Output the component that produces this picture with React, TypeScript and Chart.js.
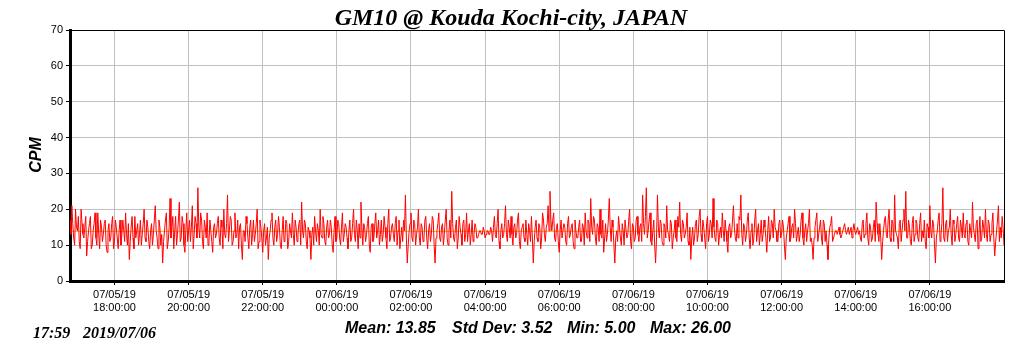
import { useEffect, useRef } from "react";
import { Chart, registerables } from "chart.js";

Chart.register(...registerables);

// Sampling schedule (minutes relative to 07/05/19 18:00:00)
const START_MINUTE = -72;
const STEP_MINUTES = 3;

// CPM readings, on the 3-minute marks
const CPM = [
  17, 21, 12, 20, 14, 11, 20, 13, 15, 7, 14, 18, 10, 16, 12, 19, 9, 15, 13, 17,
  8, 16, 12, 18, 11, 15, 9, 17, 13, 14, 19, 10, 6, 15, 12, 18, 14, 10, 17, 13,
  20, 11, 15, 9, 16, 13, 21, 12, 17, 10, 5, 14, 19, 11, 23, 15, 9, 18, 13, 22,
  12, 16, 8, 19, 14, 11, 21, 13, 16, 26, 12, 17, 9, 15, 19, 11, 14, 8, 16, 13,
  18, 10, 15, 20, 12, 24, 14, 17, 11, 19, 13, 9, 16, 6, 14, 18, 12, 15, 10, 17,
  13, 20, 11, 15, 8, 16, 12, 6, 14, 19, 10, 17, 13, 15, 9, 18, 12, 16, 11, 14,
  19, 10, 15, 13, 17, 22, 12, 16, 9, 14, 6, 15, 18, 11, 14, 20, 12, 16, 10, 17,
  13, 15, 8, 18, 12, 16, 10, 19, 13, 15, 9, 17, 12, 20, 11, 14, 16, 22, 10, 15,
  13, 18, 8, 16, 12, 19, 14, 10, 17, 13, 15, 9, 20, 12, 16, 11, 18, 14, 9, 15,
  17, 24, 5, 14, 19, 11, 16, 13, 20, 10, 15, 12, 18, 9, 16, 13, 17, 5, 14, 19,
  11, 16, 13, 20, 10, 17, 25, 12, 15, 9, 18, 13, 16, 11, 19, 14, 10, 17, 13, 15,
  12, 14, 13, 15, 12, 14, 13, 15, 11, 18, 12, 20, 9, 16, 13, 21, 11, 15, 18, 10,
  16, 13, 19, 9, 15, 12, 17, 10, 14, 18, 5, 15, 12, 16, 9, 19, 13, 15, 21, 25,
  14, 19, 11, 16, 8, 17, 12, 15, 10, 18, 13, 16, 9, 14, 12, 17, 11, 15, 19, 12,
  16, 23, 13, 17, 10, 15, 20, 12, 8, 16, 13, 23, 11, 15, 5, 14, 18, 12, 16, 10,
  17, 13, 20, 9, 15, 12, 18, 11, 16, 24, 13, 26, 14, 19, 10, 17, 5, 24, 12, 16,
  10, 15, 21, 13, 17, 9, 14, 12, 18, 22, 11, 16, 13, 19, 10, 6, 15, 12, 17, 13,
  20, 11, 15, 9, 18, 13, 16, 23, 12, 17, 10, 15, 19, 11, 14, 8, 16, 13, 21, 12,
  16, 18, 24, 10, 15, 13, 19, 9, 16, 12, 20, 14, 10, 17, 13, 15, 8, 18, 12, 16,
  20, 14, 11, 17, 13, 15, 6, 14, 18, 12, 16, 20, 11, 15, 13, 19, 10, 16, 14, 20,
  12, 6, 15, 19, 13, 17, 10, 16, 14, 6, 15, 18, 12, 14, 13, 15, 12, 14, 16, 13,
  15, 14, 12, 16, 13, 15, 14, 11, 17, 13, 19, 10, 15, 12, 17, 22, 13, 16, 6, 14,
  18, 12, 20, 11, 16, 24, 13, 9, 17, 14, 20, 25, 12, 15, 10, 18, 13, 16, 11, 19,
  14, 17, 9, 15, 21, 12, 16, 5, 14, 19, 13, 26, 11, 17, 14, 20, 10, 16, 13, 18,
  11, 15, 19, 12, 17, 10, 14, 22, 13, 16, 9, 18, 12, 15, 20, 11, 16, 13, 19, 7,
  14, 21, 15, 18, 10,
];

// CPM readings between the 3-minute marks (half-way samples)
const CPM_MID = [
  13, 16, 10, 15, 18, 9, 16, 12, 18, 11, 16, 9, 14, 19, 10, 13, 17, 11, 16, 10,
  14, 11, 16, 9, 17, 12, 14, 10, 17, 11, 13, 16, 11, 18, 9, 12, 16, 13, 10, 16,
  12, 17, 11, 14, 10, 17, 14, 9, 15, 13, 11, 17, 9, 15, 12, 18, 14, 10, 17, 11,
  18, 10, 14, 11, 17, 15, 9, 18, 12, 15, 19, 11, 17, 12, 10, 17, 11, 15, 12, 16,
  12, 17, 9, 13, 16, 11, 18, 10, 14, 12, 17, 15, 10, 14, 11, 16, 9, 17, 13, 11,
  16, 9, 17, 12, 14, 10, 15, 12, 17, 12, 15, 11, 18, 10, 14, 11, 17, 9, 16, 12,
  13, 17, 11, 16, 10, 14, 17, 11, 15, 12, 13, 10, 14, 16, 10, 13, 18, 11, 15, 12,
  17, 10, 14, 11, 17, 12, 15, 11, 16, 12, 14, 11, 16, 13, 17, 9, 12, 15, 16, 11,
  16, 10, 15, 11, 16, 12, 17, 13, 11, 18, 12, 16, 11, 15, 13, 16, 10, 17, 12, 11,
  14, 12, 10, 16, 12, 17, 10, 15, 12, 16, 11, 17, 12, 14, 11, 18, 10, 12, 16, 12,
  15, 10, 17, 12, 14, 12, 16, 11, 17, 12, 15, 10, 17, 13, 11, 16, 13, 11, 16, 12,
  13, 14, 13, 14, 13, 14, 13, 14, 15, 13, 16, 11, 14, 12, 16, 13, 17, 12, 13, 15,
  12, 17, 11, 14, 16, 11, 13, 16, 11, 12, 11, 17, 11, 15, 12, 17, 11, 16, 14, 17,
  17, 12, 15, 11, 14, 12, 16, 11, 16, 12, 15, 11, 17, 12, 15, 11, 16, 10, 14, 17,
  11, 15, 18, 12, 16, 11, 13, 17, 12, 11, 17, 15, 17, 10, 12, 11, 15, 10, 14, 17,
  12, 17, 11, 16, 11, 17, 13, 15, 11, 16, 18, 12, 17, 11, 14, 10, 12, 15, 17, 11,
  16, 12, 14, 11, 16, 12, 17, 11, 15, 13, 17, 12, 15, 11, 15, 12, 10, 16, 11, 18,
  13, 17, 12, 16, 11, 17, 12, 15, 11, 16, 13, 12, 14, 17, 11, 15, 12, 17, 15, 11,
  12, 17, 13, 16, 11, 17, 12, 14, 10, 17, 11, 16, 13, 11, 17, 12, 14, 11, 17, 12,
  15, 11, 16, 12, 17, 10, 12, 16, 11, 15, 12, 16, 13, 11, 17, 12, 14, 11, 16, 11,
  10, 12, 17, 11, 15, 12, 17, 11, 10, 12, 16, 11, 13, 14, 14, 13, 13, 15, 14, 14,
  13, 15, 14, 14, 14, 13, 12, 16, 12, 16, 12, 16, 11, 15, 11, 16, 11, 12, 11, 17,
  13, 17, 12, 17, 11, 14, 12, 16, 11, 17, 14, 12, 17, 11, 16, 11, 17, 12, 16, 11,
  12, 11, 16, 12, 14, 17, 10, 12, 17, 11, 16, 12, 16, 11, 15, 13, 17, 11, 16, 12,
  17, 12, 13, 16, 11, 16, 12, 15, 11, 17, 13, 11, 17, 12, 13, 17, 11, 16, 12, 11,
  17, 11, 12, 15,
];

const MEAN_CPM = 13.85;

const X_MIN = -72;
const X_MAX = 1440;
const X_TICK_VALUES = [0, 120, 240, 360, 480, 600, 720, 840, 960, 1080, 1200, 1320];
const X_TICK_DATES = [
  "07/05/19", "07/05/19", "07/05/19", "07/06/19", "07/06/19", "07/06/19",
  "07/06/19", "07/06/19", "07/06/19", "07/06/19", "07/06/19", "07/06/19",
];
const X_TICK_TIMES = [
  "18:00:00", "20:00:00", "22:00:00", "00:00:00", "02:00:00", "04:00:00",
  "06:00:00", "08:00:00", "10:00:00", "12:00:00", "14:00:00", "16:00:00",
];

const Y_MIN = 0;
const Y_MAX = 70;
const Y_STEP = 10;

const TITLE = "GM10 @ Kouda Kochi-city, JAPAN";
const Y_TITLE = "CPM";
const STAMP_TIME = "17:59";
const STAMP_DATE = "2019/07/06";
const STAT_TEXTS = ["Mean: 13.85", "Std Dev: 3.52", "Min: 5.00", "Max: 26.00"];

const SANS = '"Liberation Sans", Arial, sans-serif';
const SERIF = '"Liberation Serif", "Times New Roman", serif';

const overlayPlugin = {
  id: "overlay",
  afterDraw(chart: any) {
    const { ctx, chartArea } = chart;
    const { left, top, right, bottom } = chartArea;
    ctx.save();
    ctx.strokeStyle = "#000";
    ctx.lineWidth = 1;
    ctx.beginPath();
    ctx.moveTo(left, Math.round(top) + 0.5);
    ctx.lineTo(Math.round(right) + 0.5, Math.round(top) + 0.5);
    ctx.lineTo(Math.round(right) + 0.5, bottom);
    ctx.stroke();

    ctx.fillStyle = "#000";
    ctx.font = `italic bold 24px ${SERIF}`;
    ctx.textAlign = "center";
    ctx.textBaseline = "alphabetic";
    ctx.fillText(TITLE, 511, 25);

    ctx.save();
    ctx.translate(37, 155);
    ctx.rotate(-Math.PI / 2);
    ctx.font = `italic bold 16px ${SANS}`;
    ctx.textAlign = "center";
    ctx.textBaseline = "middle";
    ctx.fillText(Y_TITLE, 0, 0);
    ctx.restore();

    ctx.textAlign = "left";
    ctx.textBaseline = "alphabetic";
    ctx.font = `italic bold 16px ${SERIF}`;
    ctx.fillText(STAMP_TIME, 33, 338);
    ctx.fillText(STAMP_DATE, 83, 338);

    ctx.font = `italic bold 16px ${SANS}`;
    const xs = [345, 452, 567, 650];
    STAT_TEXTS.forEach((t, i) => ctx.fillText(t, xs[i], 333));
    ctx.restore();
  },
};

export default function App() {
  const canvasRef = useRef<HTMLCanvasElement | null>(null);

  useEffect(() => {
    if (!canvasRef.current) return;
    const points: { x: number; y: number }[] = [];
    CPM.forEach((v, i) => {
      const t = START_MINUTE + i * STEP_MINUTES;
      points.push({ x: t, y: v });
      if (i < CPM_MID.length) points.push({ x: t + STEP_MINUTES / 2, y: CPM_MID[i] });
    });
    const chart = new Chart(canvasRef.current, {
      type: "line",
      data: {
        datasets: [
          {
            label: "CPM",
            data: points,
            borderColor: "#ff0000",
            borderWidth: 1,
            pointRadius: 0,
            tension: 0,
            order: 0,
          },
          {
            label: "Mean",
            data: [
              { x: X_MIN, y: MEAN_CPM },
              { x: X_MAX, y: MEAN_CPM },
            ],
            borderColor: "rgb(255,170,0)",
            borderWidth: 1,
            pointRadius: 0,
            order: 1,
          },
        ],
      },
      options: {
        animation: false,
        responsive: true,
        maintainAspectRatio: false,
        layout: { padding: { top: 30, right: 20, bottom: 0, left: 0 } },
        plugins: {
          legend: { display: false },
          title: { display: false },
          tooltip: { enabled: false },
        },
        scales: {
          x: {
            type: "linear",
            min: X_MIN,
            max: X_MAX,
            afterBuildTicks: (scale: any) => {
              scale.ticks = X_TICK_VALUES.map((v) => ({ value: v }));
            },
            afterFit: (scale: any) => {
              scale.height = 70;
            },
            grid: {
              color: "#c0c0c0",
              tickColor: "#000",
              tickLength: 4,
              lineWidth: 1,
            },
            border: { color: "#000", width: 3 },
            ticks: {
              autoSkip: false,
              maxRotation: 0,
              color: "#000",
              padding: 3,
              font: { family: SANS, size: 11 },
              callback: (value: any) => {
                const i = X_TICK_VALUES.indexOf(Number(value));
                return i >= 0 ? [X_TICK_DATES[i], X_TICK_TIMES[i]] : "";
              },
            },
          },
          y: {
            min: Y_MIN,
            max: Y_MAX,
            afterFit: (scale: any) => {
              scale.width = 70;
            },
            grid: {
              color: "#c0c0c0",
              tickColor: "#000",
              tickLength: 4,
              lineWidth: 1,
            },
            border: { color: "#000", width: 3 },
            ticks: {
              stepSize: Y_STEP,
              color: "#000",
              padding: 3,
              font: { family: SANS, size: 11 },
            },
          },
        },
      },
      plugins: [overlayPlugin],
    });
    return () => chart.destroy();
  }, []);

  return (
    <div style={{ position: "fixed", left: 0, top: 0, width: 1024, height: 351, background: "#fff" }}>
      <canvas ref={canvasRef} />
    </div>
  );
}
